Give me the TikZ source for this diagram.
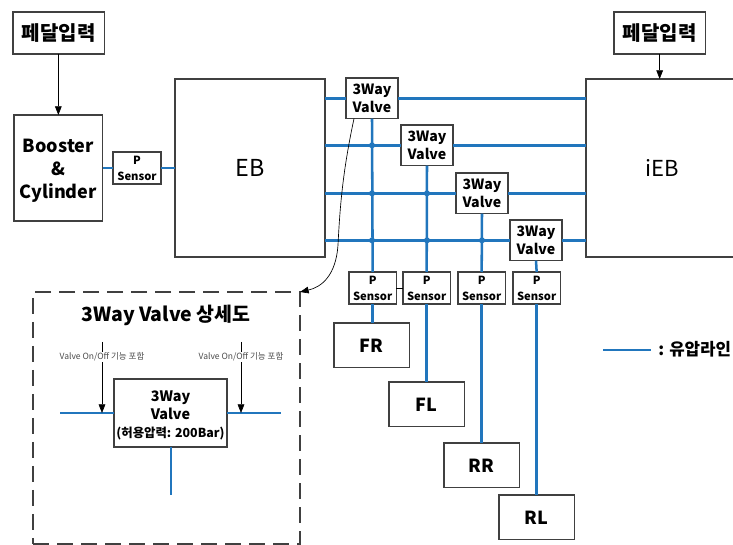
\documentclass[tikz,border=0pt]{standalone}
\usepackage{fontspec}
\setmainfont{Noto Sans CJK KR}
\usetikzlibrary{arrows.meta}
\definecolor{pipe}{HTML}{2176BD}
\definecolor{edge}{HTML}{404040}
\tikzset{
  x=0.75pt,y=-0.75pt,
  boxbase/.style={draw=edge,line width=1.1pt,fill=white,align=center,inner sep=0pt,outer sep=0pt,anchor=north west,font=\bfseries},
  hyd/.style={draw=pipe,line width=1.9pt},
  sig/.style={draw=black,line width=0.5pt,-{Triangle[length=6.5pt,width=5pt]}},
  jdot/.style={circle,fill=pipe,inner sep=0pt,minimum size=4.5pt},
  valvebox/.style={boxbase,minimum width=39pt,minimum height=30.5pt,font=\bfseries\fontsize{10.6}{13.5}\selectfont},
  sensorbox/.style={boxbase,minimum width=35.5pt,minimum height=24pt,font=\bfseries\fontsize{8.4}{12}\selectfont},
  wheelbox/.style={boxbase,minimum width=56.5pt,minimum height=33.5pt,font=\bfseries\fontsize{13.5}{15}\selectfont},
  ecubox/.style={boxbase,minimum width=112.5pt,minimum height=133.5pt,font=\fontsize{17.5}{20}\selectfont},
  pedalbox/.style={boxbase,minimum width=68.5pt,minimum height=31.5pt,font=\bfseries\fontsize{15}{17}\selectfont},
  smalllabel/.style={font=\fontsize{6.4}{7.5}\selectfont,text=black!70,fill=white,inner sep=0.5pt},
}
\begin{document}
\begin{tikzpicture}
\useasboundingbox (0,0) rectangle (733,545);
\clip (0,0) rectangle (733,545);
% top-left chain
\node[pedalbox] (pl) at (13,12) {페달입력};
\node[boxbase,minimum width=66.5pt,minimum height=79.5pt,font=\bfseries\fontsize{13.5}{17.3}\selectfont] (bc) at (14,115) {\rule{0pt}{13.8pt}Booster\\\&\\Cylinder};
\node[sensorbox,minimum width=36pt] (ps0) at (113,152) {P\\Sensor};
\node[ecubox] (eb) at (175,79) {EB};
\node[ecubox,minimum width=114pt,font=\fontsize{16.5}{20}\selectfont] (ieb) at (586,79) {\raisebox{-3.5pt}{iEB}};
\node[pedalbox] (pr) at (614,12) {페달입력};
% valves
\node[valvebox] (v1) at (346,78) {3Way\\Valve};
\node[valvebox] (v2) at (401,125) {3Way\\Valve};
\node[valvebox] (v3) at (456,173) {3Way\\Valve};
\node[valvebox] (v4) at (510,220) {3Way\\Valve};
% sensors
\node[sensorbox] (s1) at (349,272) {P\\Sensor};
\node[sensorbox] (s2) at (403,272) {P\\Sensor};
\node[sensorbox] (s3) at (458,272) {P\\Sensor};
\node[sensorbox] (s4) at (513,272) {P\\Sensor};
% wheels
\node[wheelbox] (fr) at (334,323) {FR};
\node[wheelbox] (fl) at (389,382) {FL};
\node[wheelbox] (rr) at (444,443) {RR};
\node[wheelbox] (rl) at (499,495) {RL};
% hydraulic lines
\foreach \v in {v1,v2,v3,v4}{
  \draw[hyd] (\v.west -| eb.east) -- (\v.west);
  \draw[hyd] (\v.east) -- (\v.east -| ieb.west);
}
\foreach \v/\s/\w in {v1/s1/fr,v2/s2/fl,v3/s3/rr,v4/s4/rl}{
  \draw[hyd] (\v.south) -- (\s.north);
  \draw[hyd] (\s.south) -- (\s.south |- \w.north);
}
\foreach \v/\h in {v1/v2,v1/v3,v1/v4,v2/v3,v2/v4,v3/v4}{
  \node[jdot] at (\v.south |- \h.west) {};
}
\draw[hyd] (bc.east |- ps0.west) -- (ps0.west);
\draw[hyd] (ps0.east) -- (ps0.east -| eb.west);
\draw[draw=black,line width=0.5pt] (s1.east) -- (s2.west);
% pedal arrows
\draw[sig] (pl.south -| bc.north) -- (bc.north);
\draw[sig] (pr.south) -- (pr.south |- ieb.north);
% detail frame
\node[draw=edge,line width=1.1pt,dash pattern=on 12pt off 6pt,minimum width=200.25pt,minimum height=189pt,inner sep=0pt,outer sep=0pt,anchor=north west] (detail) at (33,292) {};
\node[font=\bfseries\fontsize{14.6}{17}\selectfont] (title) at (166,315) {3Way Valve 상세도};
\node[boxbase,minimum width=84.75pt,minimum height=51pt,font=\bfseries\fontsize{10.8}{13.5}\selectfont] (dv) at (114,379) {\rule{0pt}{11.5pt}3Way\\Valve\\{\fontsize{9.3}{13.5}\selectfont(허용압력: 200Bar)}};
\coordinate (dl) at (60,413);
\coordinate (dr) at (281,413);
\coordinate (dd) at (171,495);
\draw[hyd] (dl) -- (dl -| dv.west);
\draw[hyd] (dr -| dv.east) -- (dr);
\draw[hyd] (dv.south -| dd) -- (dd);
\coordinate (al) at (102,342);
\coordinate (ar) at (241,342);
\draw[sig] (al) -- (al |- dl);
\draw[sig] (ar) -- (ar |- dr);
\node[smalllabel] (ll) at (102,357) {Valve On/Off 기능 포함};
\node[smalllabel] (lr) at (241,357) {Valve On/Off 기능 포함};
% leader curve
\draw[sig] (v1.south west) ++(8,0) coordinate (lead)
  (lead) .. controls (343,170) and (340,205) .. (338,245)
  .. controls (336,275) and (322,287) .. (detail.north east);
% legend
\coordinate (lg1) at (603,350);
\coordinate (lg2) at (651,350);
\draw[hyd] (lg1) -- (lg2);
\node[anchor=west,font=\bfseries\fontsize{12.6}{14}\selectfont,inner sep=0pt] (legend) at (658,349) {: 유압라인};
\end{tikzpicture}
\end{document}
